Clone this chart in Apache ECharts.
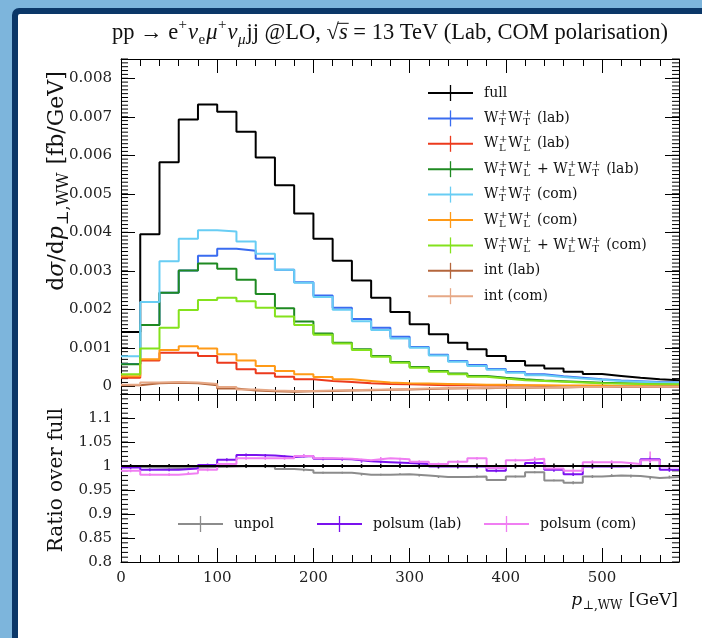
<!DOCTYPE html>
<html>
<head>
<meta charset="utf-8">
<script src="https://cdn.jsdelivr.net/npm/echarts@6/dist/echarts.min.js"></script>
<style>
  html, body { margin: 0; padding: 0; width: 702px; height: 638px; overflow: hidden; background: #7db5dc; }
  #frame { position: absolute; left: 12px; top: 8px; width: 690px; height: 630px; background: #0b3768; border-top-left-radius: 7px; }
  #panel { position: absolute; left: 18px; top: 14px; width: 684px; height: 624px; background: #ffffff; border-top-left-radius: 2px; }
  #chart { position: absolute; left: 0; top: 0; width: 702px; height: 638px; }
</style>
</head>
<body>
<div id="frame"></div>
<div id="panel"></div>
<div id="chart"></div>
<script>
// ---- binning (p_T,WW in GeV, 20 GeV bins) ----
const EDGES = [0, 20, 40, 60, 80, 100, 120, 140, 160, 180, 200, 220, 240, 260, 280, 300,
               320, 340, 360, 380, 400, 420, 440, 460, 480, 500, 520, 540, 560, 580];

// ---- differential cross sections dσ/dp_T,WW [fb/GeV] ----
const full      = [0.00141, 0.00395, 0.00582, 0.00693, 0.00732, 0.00713, 0.00661, 0.00594, 0.00522, 0.00449,
                   0.00383, 0.00326, 0.00275, 0.00230, 0.00193, 0.00161, 0.00135, 0.00113, 0.00096, 0.00079,
                   0.00066, 0.00054, 0.00046, 0.00038, 0.00032, 0.00027, 0.00022, 0.00018, 0.00016];
const wtwtLab   = [0.00058, 0.00159, 0.00243, 0.00301, 0.00339, 0.00357, 0.00352, 0.00331, 0.00303, 0.00270,
                   0.00236, 0.00204, 0.00175, 0.00152, 0.00129, 0.00102, 0.00082, 0.00066, 0.00055, 0.00045,
                   0.00037, 0.00031, 0.00026, 0.00022, 0.00018, 0.00015, 0.00013, 0.00011, 0.00010];
const wlwlLab   = [0.00022, 0.00067, 0.00087, 0.00087, 0.00079, 0.00061, 0.00044, 0.00034, 0.00025, 0.00018,
                   0.00014, 0.00011, 0.00008, 0.00006, 0.00005, 0.00004, 0.00003, 0.00003, 0.00002, 0.00002,
                   0.00002, 0.00001, 0.00001, 0.00001, 0.00001, 0.00001, 0.00000, 0.00000, 0.00000];
const wtwlLab   = [0.00057, 0.00159, 0.00243, 0.00301, 0.00319, 0.00305, 0.00277, 0.00240, 0.00203, 0.00168,
                   0.00137, 0.00113, 0.00096, 0.00079, 0.00063, 0.00050, 0.00040, 0.00033, 0.00027, 0.00022,
                   0.00018, 0.00015, 0.00013, 0.00011, 0.00009, 0.00008, 0.00007, 0.00006, 0.00005];
const wtwtCom   = [0.00078, 0.00219, 0.00325, 0.00383, 0.00405, 0.00402, 0.00376, 0.00344, 0.00303, 0.00269,
                   0.00232, 0.00199, 0.00169, 0.00146, 0.00124, 0.00100, 0.00080, 0.00064, 0.00053, 0.00043,
                   0.00035, 0.00029, 0.00024, 0.00020, 0.00017, 0.00014, 0.00012, 0.00010, 0.00009];
const wlwlCom   = [0.00026, 0.00070, 0.00094, 0.00104, 0.00098, 0.00083, 0.00067, 0.00053, 0.00040, 0.00031,
                   0.00024, 0.00018, 0.00014, 0.00010, 0.00008, 0.00007, 0.00006, 0.00005, 0.00004, 0.00004,
                   0.00003, 0.00003, 0.00002, 0.00002, 0.00002, 0.00001, 0.00001, 0.00001, 0.00001];
const wtwlCom   = [0.00031, 0.00098, 0.00152, 0.00198, 0.00224, 0.00230, 0.00221, 0.00204, 0.00181, 0.00159,
                   0.00134, 0.00111, 0.00094, 0.00077, 0.00061, 0.00048, 0.00038, 0.00031, 0.00025, 0.00020,
                   0.00016, 0.00014, 0.00012, 0.00010, 0.00008, 0.00007, 0.00006, 0.00005, 0.00005];
const intLab    = [0.00003, 0.00008, 0.00009, 0.00008, 0.00003, -0.00006, -0.00011, -0.00013, -0.00014, -0.00013,
                   -0.00012, -0.00011, -0.00010, -0.00009, -0.00008, -0.00007, -0.00006, -0.00005, -0.00005, -0.00004,
                   -0.00004, -0.00003, -0.00003, -0.00002, -0.00002, -0.00002, -0.00002, -0.00001, -0.00001];
const intCom    = [0.00004, 0.00010, 0.00011, 0.00010, 0.00006, -0.00002, -0.00008, -0.00011, -0.00012, -0.00012,
                   -0.00011, -0.00010, -0.00009, -0.00008, -0.00007, -0.00006, -0.00005, -0.00005, -0.00004, -0.00004,
                   -0.00003, -0.00003, -0.00002, -0.00002, -0.00002, -0.00001, -0.00001, -0.00001, -0.00001];

// ---- ratios over full ----
const ratioFull      = [1, 1, 1, 1, 1, 1, 1, 1, 1, 1, 1, 1, 1, 1, 1, 1, 1, 1, 1, 1, 1, 1, 1, 1, 1, 1, 1, 1, 1];
const ratioFullErr   = [0.004, 0.004, 0.004, 0.004, 0.004, 0.004, 0.004, 0.004, 0.004, 0.004, 0.004, 0.004, 0.004, 0.004, 0.004,
                        0.005, 0.005, 0.005, 0.005, 0.005, 0.005, 0.005, 0.005, 0.005, 0.005, 0.006, 0.006, 0.006, 0.006];
const ratioUnpol     = [0.998, 0.997, 0.996, 0.997, 0.998, 0.999, 1.000, 0.999, 0.994, 0.991, 0.986, 0.986, 0.982, 0.982, 0.983,
                        0.980, 0.977, 0.977, 0.978, 0.971, 0.978, 0.987, 0.970, 0.965, 0.978, 0.980, 0.979, 0.975, 0.977];
const ratioUnpolErr  = [0.002, 0.002, 0.002, 0.002, 0.002, 0.002, 0.002, 0.002, 0.002, 0.002, 0.002, 0.002, 0.002, 0.002, 0.002,
                        0.002, 0.002, 0.002, 0.002, 0.002, 0.002, 0.002, 0.002, 0.003, 0.003, 0.003, 0.003, 0.003, 0.003];
const ratioPolLab    = [0.997, 0.992, 0.992, 0.995, 1.002, 1.013, 1.023, 1.022, 1.019, 1.021, 1.015, 1.014, 1.010, 1.008, 1.006,
                        1.004, 0.999, 0.999, 0.999, 0.990, 1.000, 1.006, 0.992, 0.983, 0.999, 0.999, 1.000, 1.014, 0.992];
const ratioPolLabErr = [0.003, 0.003, 0.003, 0.003, 0.003, 0.003, 0.003, 0.003, 0.003, 0.003, 0.003, 0.003, 0.003, 0.003, 0.003,
                        0.003, 0.003, 0.003, 0.003, 0.003, 0.003, 0.004, 0.004, 0.004, 0.004, 0.004, 0.004, 0.006, 0.004];
const ratioPolCom    = [0.990, 0.982, 0.982, 0.985, 0.992, 1.004, 1.016, 1.016, 1.016, 1.021, 1.016, 1.015, 1.012, 1.016, 1.014,
                        1.009, 1.004, 1.009, 1.016, 0.996, 1.012, 1.015, 0.995, 0.990, 1.008, 1.008, 1.004, 1.012, 0.999];
const ratioPolComErr = [0.003, 0.003, 0.003, 0.003, 0.003, 0.003, 0.003, 0.003, 0.003, 0.003, 0.003, 0.003, 0.003, 0.003, 0.003,
                        0.003, 0.003, 0.003, 0.003, 0.003, 0.003, 0.004, 0.004, 0.004, 0.004, 0.004, 0.004, 0.018, 0.004];

// ---- axis ranges and tick steps ----
const X_RANGE = [0, 580];
const Y_MAIN = [-0.0002, 0.0085];
const Y_RATIO = [0.8, 1.15];
const Y_MAIN_MINOR_STEP = 0.0001;
const Y_RATIO_MINOR_STEP = 0.01;

// ---- text measurement helper for formula-style labels ----
const mctx = document.createElement('canvas').getContext('2d');
function fontStr(size, fam, it) { return (it ? 'italic ' : '') + size + 'px "' + fam + '"'; }
function tw(s, f) { mctx.font = f; return mctx.measureText(s).width; }

// tokens: {t, it, ol} plain run | {sup, sub} script (stacked if both)
function mathText(tokens, o) {
  const S = o.size, s2 = Math.round(S * (o.scriptScale || 0.68));
  const pieces = [];
  let cx = 0;
  tokens.forEach(tk => {
    if (tk.t !== undefined) {
      const f = fontStr(S, o.family, tk.it);
      const w = tw(tk.t, f);
      pieces.push({ text: tk.t, x: cx, y: 0, font: f });
      if (tk.ol) pieces.push({ line: [cx - 1, -S * 0.43, cx + w + 1, -S * 0.43] });
      cx += w;
    } else {
      const f = fontStr(s2, o.family, !!tk.it);
      let w = 0;
      if (tk.sup) { pieces.push({ text: tk.sup, x: cx + 0.5, y: -S * 0.34, font: f }); w = Math.max(w, tw(tk.sup, f)); }
      if (tk.sub) { pieces.push({ text: tk.sub, x: cx + 0.5, y: S * 0.3, font: f }); w = Math.max(w, tw(tk.sub, f)); }
      cx += w + 1.5;
    }
  });
  const off = o.align === 'right' ? -cx : (o.align === 'center' ? -cx / 2 : 0);
  const children = pieces.map(p => p.line
    ? { type: 'line', shape: { x1: p.line[0] + off, y1: p.line[1], x2: p.line[2] + off, y2: p.line[3] },
        style: { stroke: o.color, lineWidth: 1 } }
    : { type: 'text', x: p.x + off, y: p.y,
        style: { text: p.text, font: p.font, fill: o.color, align: 'left', verticalAlign: 'middle',
                 textAlign: 'left', textVerticalAlign: 'middle' } });
  return { type: 'group', x: o.x, y: o.y, rotation: o.rotation || 0, silent: true, children };
}

// legend sample: horizontal line with error-bar cross
function legendEntry(x, y, color, tokens, fam, size) {
  return [
    { type: 'line', silent: true, shape: { x1: x, y1: y, x2: x + 45, y2: y }, style: { stroke: color, lineWidth: 2 } },
    { type: 'line', silent: true, shape: { x1: x + 22.5, y1: y - 8, x2: x + 22.5, y2: y + 8 }, style: { stroke: color, lineWidth: 1.3 } },
    mathText(tokens, { x: x + 56, y: y, size: size, family: fam, align: 'left', color: '#111' })
  ];
}

// ---- axes: the x sides get a major-tick and a minor-tick axis, the y sides a major-tick axis ----
function frameAxis(gi, side, range, step, fixed, tickLen, label, lineShown) {
  const ax = {
    type: 'value', gridIndex: gi, position: side, min: range[0], max: range[1],
    splitLine: { show: false },
    axisLine: { show: lineShown, onZero: false, lineStyle: { color: '#000', width: 1 } },
    axisTick: { show: true, inside: true, length: tickLen, lineStyle: { color: '#000', width: 1 } },
    axisLabel: label || { show: false },
    silent: true
  };
  if (fixed) ax.interval = step;
  else { ax.minInterval = step; ax.maxInterval = step; ax.splitNumber = Math.round((range[1] - range[0]) / step); }
  return ax;
}

const LABEL_FONT = 'DejaVu Serif';
const labelBase = { show: true, fontFamily: LABEL_FONT, fontSize: 15, color: '#222' };
const xLabel = Object.assign({}, labelBase, { margin: 9, formatter: v => (Math.abs(v % 100) < 1e-6 ? String(Math.round(v)) : '') });
const yMainLabel = Object.assign({}, labelBase, { margin: 9, formatter: v => {
  const k = Math.round(v / 0.001);
  if (Math.abs(v - k * 0.001) > 1e-7 || k < 0) return '';
  return k === 0 ? '0' : (k * 0.001).toFixed(3);
} });
const yRatioLabel = Object.assign({}, labelBase, { margin: 9, formatter: v => {
  const k = Math.round(v / 0.05);
  if (Math.abs(v - k * 0.05) > 1e-6 || v > 1.12) return '';
  return String(parseFloat((k * 0.05).toFixed(2)));
} });

// x axes: 0..3 upper panel, 4..7 ratio panel
const xAxes = [
  frameAxis(0, 'bottom', X_RANGE, 100, true, 14, null, true),
  frameAxis(0, 'bottom', X_RANGE, 20, true, 7, null, false),
  frameAxis(0, 'top', X_RANGE, 100, true, 14, null, true),
  frameAxis(0, 'top', X_RANGE, 20, true, 7, null, false),
  frameAxis(1, 'bottom', X_RANGE, 100, true, 14, xLabel, true),
  frameAxis(1, 'bottom', X_RANGE, 20, true, 7, null, false),
  frameAxis(1, 'top', X_RANGE, 100, true, 14, null, true),
  frameAxis(1, 'top', X_RANGE, 20, true, 7, null, false)
];
// y axes: 0..1 upper panel, 2..3 ratio panel
const yAxes = [
  frameAxis(0, 'left', Y_MAIN, 0.001, false, 14, yMainLabel, true),
  frameAxis(0, 'right', Y_MAIN, 0.001, false, 14, null, true),
  frameAxis(1, 'left', Y_RATIO, 0.05, true, 14, yRatioLabel, true),
  frameAxis(1, 'right', Y_RATIO, 0.05, true, 14, null, true)
];

function stepData(vals) {
  const d = vals.map((v, i) => [EDGES[i], v]);
  d.push([EDGES[vals.length], vals[vals.length - 1]]);
  return d;
}
function histLine(name, vals, color, xi, yi, width) {
  return { type: 'line', name, xAxisIndex: xi, yAxisIndex: yi, step: 'end', symbol: 'none', showSymbol: false,
           data: stepData(vals), lineStyle: { color, width }, silent: true, animation: false };
}
function errBars(vals, errs, color, xi, yi) {
  return {
    type: 'custom', xAxisIndex: xi, yAxisIndex: yi, silent: true, animation: false,
    data: vals.map((v, i) => [(EDGES[i] + EDGES[i + 1]) / 2, v, errs[i]]),
    encode: { x: 0, y: 1 },
    renderItem: (p, api) => {
      const x = api.value(0), y = api.value(1), e = api.value(2);
      const a = api.coord([x, y - e]), b = api.coord([x, y + e]);
      return { type: 'line', shape: { x1: a[0], y1: a[1], x2: b[0], y2: b[1] }, style: { stroke: color, lineWidth: 1.5 } };
    }
  };
}
// short inward minor ticks on both vertical frame edges, placed through the y scale
function minorTicksY(range, step, xi, yi) {
  const vals = [];
  const n = Math.round((range[1] - range[0]) / step);
  for (let i = 0; i <= n; i++) vals.push([X_RANGE[0], +(range[0] + i * step).toFixed(6)]);
  return {
    type: 'custom', xAxisIndex: xi, yAxisIndex: yi, silent: true, animation: false, clip: false,
    data: vals, encode: { x: 0, y: 1 },
    renderItem: (p, api) => {
      const a = api.coord([X_RANGE[0], api.value(1)]);
      const b = api.coord([X_RANGE[1], api.value(1)]);
      return { type: 'group', children: [
        { type: 'line', shape: { x1: a[0], y1: a[1], x2: a[0] + 7, y2: a[1] }, style: { stroke: '#000', lineWidth: 1 } },
        { type: 'line', shape: { x1: b[0] - 7, y1: b[1], x2: b[0], y2: b[1] }, style: { stroke: '#000', lineWidth: 1 } }
      ] };
    }
  };
}

const C = {
  full: '#000000', wtwtLab: '#3a6cf0', wlwlLab: '#ec3a1c', wtwlLab: '#1f8a22',
  wtwtCom: '#68cdf4', wlwlCom: '#ff9a17', wtwlCom: '#84e21c', intLab: '#b4663c', intCom: '#e6a886',
  unpol: '#8c8c8c', polLab: '#7a12ee', polCom: '#f07ef2'
};

const series = [
  minorTicksY(Y_MAIN, Y_MAIN_MINOR_STEP, 0, 0),
  minorTicksY(Y_RATIO, Y_RATIO_MINOR_STEP, 4, 2),

  histLine('full', full, C.full, 0, 0, 2),
  histLine('WTWT (lab)', wtwtLab, C.wtwtLab, 0, 0, 2),
  histLine('WLWL (lab)', wlwlLab, C.wlwlLab, 0, 0, 2),
  histLine('WTWL+WLWT (lab)', wtwlLab, C.wtwlLab, 0, 0, 2),
  histLine('WTWT (com)', wtwtCom, C.wtwtCom, 0, 0, 2),
  histLine('WLWL (com)', wlwlCom, C.wlwlCom, 0, 0, 2),
  histLine('WTWL+WLWT (com)', wtwlCom, C.wtwlCom, 0, 0, 2),
  histLine('int (lab)', intLab, C.intLab, 0, 0, 2),
  histLine('int (com)', intCom, C.intCom, 0, 0, 2),

  histLine('unpol', ratioUnpol, C.unpol, 4, 2, 2),
  errBars(ratioUnpol, ratioUnpolErr, C.unpol, 4, 2),
  histLine('polsum (lab)', ratioPolLab, C.polLab, 4, 2, 2),
  errBars(ratioPolLab, ratioPolLabErr, C.polLab, 4, 2),
  histLine('polsum (com)', ratioPolCom, C.polCom, 4, 2, 2),
  errBars(ratioPolCom, ratioPolComErr, C.polCom, 4, 2),
  histLine('full ratio', ratioFull, C.full, 4, 2, 2),
  errBars(ratioFull, ratioFullErr, C.full, 4, 2)
];

// ---- text elements ----
const W = (sub) => [{ t: 'W' }, { sup: '+', sub: sub }];
const LEG_FONT = 'DejaVu Serif', LEG_SIZE = 14;
const legendRows = [
  [C.full, [{ t: 'full' }]],
  [C.wtwtLab, [].concat(W('T'), W('T'), [{ t: ' (lab)' }])],
  [C.wlwlLab, [].concat(W('L'), W('L'), [{ t: ' (lab)' }])],
  [C.wtwlLab, [].concat(W('T'), W('L'), [{ t: ' + ' }], W('L'), W('T'), [{ t: ' (lab)' }])],
  [C.wtwtCom, [].concat(W('T'), W('T'), [{ t: ' (com)' }])],
  [C.wlwlCom, [].concat(W('L'), W('L'), [{ t: ' (com)' }])],
  [C.wtwlCom, [].concat(W('T'), W('L'), [{ t: ' + ' }], W('L'), W('T'), [{ t: ' (com)' }])],
  [C.intLab, [{ t: 'int (lab)' }]],
  [C.intCom, [{ t: 'int (com)' }]]
];

const graphics = [];
legendRows.forEach((r, i) => legendEntry(428, 93 + i * 25.4, r[0], r[1], LEG_FONT, LEG_SIZE).forEach(g => graphics.push(g)));
[[178, C.unpol, 'unpol'], [317, C.polLab, 'polsum (lab)'], [484, C.polCom, 'polsum (com)']].forEach(r =>
  legendEntry(r[0], 524, r[1], [{ t: r[2] }], LEG_FONT, LEG_SIZE).forEach(g => graphics.push(g)));

// title
graphics.push(mathText([
  { t: 'pp → e' }, { sup: '+' }, { t: 'ν', it: true }, { sub: 'e' }, { t: 'μ', it: true }, { sup: '+' },
  { t: 'ν', it: true }, { sub: 'μ', it: true }, { t: 'jj @LO, √' }, { t: 's', it: true, ol: true },
  { t: ' = 13 TeV (Lab, COM polarisation)' }
], { x: 390, y: 33, size: 22.5, family: 'Liberation Serif', align: 'center', color: '#111' }));

// axis titles
graphics.push(mathText([{ t: 'p', it: true }, { sub: '⊥,WW' }, { t: ' [GeV]' }],
  { x: 678, y: 601, size: 17, family: LEG_FONT, align: 'right', color: '#111' }));
graphics.push(mathText([{ t: 'd' }, { t: 'σ', it: true }, { t: '/d' }, { t: 'p', it: true }, { sub: '⊥,WW' }, { t: ' [fb/GeV]' }],
  { x: 57, y: 181, size: 22, family: LEG_FONT, align: 'center', color: '#111', rotation: Math.PI / 2, scriptScale: 0.72 }));
graphics.push(mathText([{ t: 'Ratio over full' }],
  { x: 57, y: 480, size: 20, family: LEG_FONT, align: 'center', color: '#111', rotation: Math.PI / 2 }));

const chart = echarts.init(document.getElementById('chart'), null, { renderer: 'canvas' });
chart.setOption({
  backgroundColor: 'transparent',
  animation: false,
  grid: [
    { left: 121, top: 59, width: 558, height: 335, containLabel: false },
    { left: 121, top: 394, width: 558, height: 168, containLabel: false }
  ],
  xAxis: xAxes,
  yAxis: yAxes,
  series: series,
  graphic: { elements: graphics }
});
</script>
</body>
</html>
